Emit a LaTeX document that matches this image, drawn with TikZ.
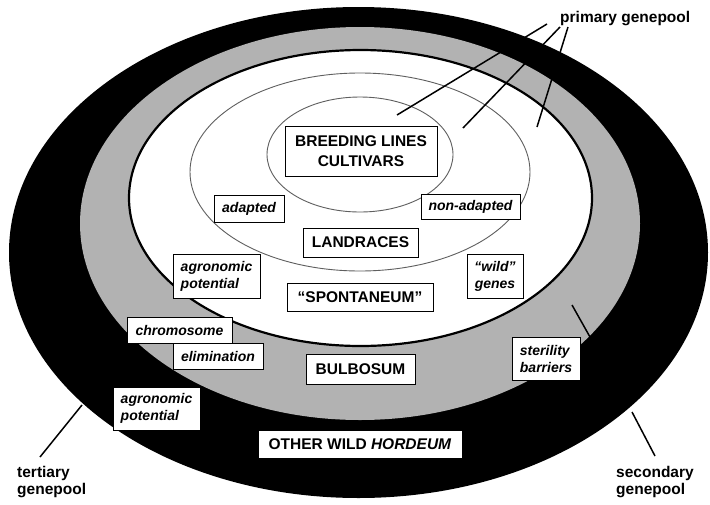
\documentclass[tikz,border=0pt]{standalone}
\usepackage{fontspec}
\setmainfont{Liberation Sans}
\definecolor{ring}{RGB}{178,178,178}
\definecolor{thin}{RGB}{95,95,95}
\tikzset{
  box/.style={draw=black, fill=white, line width=0.9pt, inner sep=0pt},
  capsbox/.style={box, font=\fontsize{15.5}{20}\selectfont\bfseries, align=center},
  italbox/.style={box, font=\fontsize{14}{17}\selectfont\bfseries\itshape},
  pool/.style={font=\fontsize{15.5}{17.5}\selectfont\bfseries, inner sep=0pt, align=left},
  conn/.style={line width=1.5pt, black},
  thinring/.style={draw=thin, line width=0.9pt}
}
\begin{document}
\begin{tikzpicture}[x=1pt,y=-1pt]
\useasboundingbox (0,0) rectangle (710,504);
% rings
\fill[black] (358.5,252.5) ellipse [x radius=349.5pt, y radius=245.5pt];
\fill[ring] (360,223.5) ellipse [x radius=280pt, y radius=196.5pt];
\filldraw[fill=white, draw=black, line width=2.2pt] (360.5,198) ellipse [x radius=231.5pt, y radius=148pt];
\draw[thinring] (360,172) ellipse [x radius=170pt, y radius=99pt];
\draw[thinring] (360,154.5) ellipse [x radius=93pt, y radius=57.5pt];

% connector end points
\coordinate (p1s) at (547,24);
\coordinate (p2s) at (560,27);
\coordinate (p3s) at (568,27);
\coordinate (p1e) at (397,115);
\coordinate (p2e) at (463,128);
\coordinate (p3e) at (537,127);
\coordinate (ts) at (40,457);
\coordinate (te) at (82,405);
\coordinate (ss) at (655,456);
\coordinate (se) at (632,412);
\coordinate (bs) at (590,337);
\coordinate (be) at (572,305);

\draw[conn] (p1s) -- (p1e);
\draw[conn] (p2s) -- (p2e);
\draw[conn] (p3s) -- (p3e);
\draw[conn] (ts) -- (te);
\draw[conn] (ss) -- (se);
\draw[conn] (bs) -- (be);

% pool labels
\node[pool, anchor=base west] (primary) at (560,22) {primary genepool};
\node[pool, anchor=north west] (tertiary) at (17,466) {tertiary\\genepool};
\node[pool, anchor=north west] (secondary) at (616,466) {secondary\\genepool};

% boxes
\node[capsbox, minimum width=152pt, minimum height=50pt] (breed) at (361,151) {BREEDING LINES\\CULTIVARS};
\node[italbox, minimum width=70pt, minimum height=27pt] (adapted) at (249,208.5) {adapted};
\node[italbox, minimum width=99pt, minimum height=25pt] (nonadapted) at (470.5,206.5) {non-adapted};
\node[capsbox, minimum width=115pt, minimum height=29pt] (landraces) at (360.5,242.5) {LANDRACES};
\node[capsbox, minimum width=146pt, minimum height=28pt] (spont) at (360,297) {“SPONTANEUM”};
\node[italbox, align=left, minimum width=87pt, minimum height=44pt] (agro1) at (216.5,276) {agronomic\\potential};
\node[italbox, align=center, minimum width=56pt, minimum height=44pt] (wild) at (495,276) {“wild”\\genes};
\node[italbox, minimum width=105pt, minimum height=26pt] (chromo) at (179.5,330) {chromosome};
\node[italbox, minimum width=90pt, minimum height=26pt] (elim) at (218,356) {elimination};
\node[capsbox, minimum width=109pt, minimum height=30pt] (bulb) at (360.5,369) {BULBOSUM};
\node[italbox, align=left, minimum width=68pt, minimum height=43pt] (steril) at (546,358.5) {sterility\\barriers};
\node[italbox, align=left, minimum width=87pt, minimum height=43pt] (agro2) at (156.5,408.5) {agronomic\\potential};
\node[capsbox, minimum width=204pt, minimum height=28pt] (other) at (360,444) {OTHER WILD \textit{HORDEUM}};
\end{tikzpicture}
\end{document}
